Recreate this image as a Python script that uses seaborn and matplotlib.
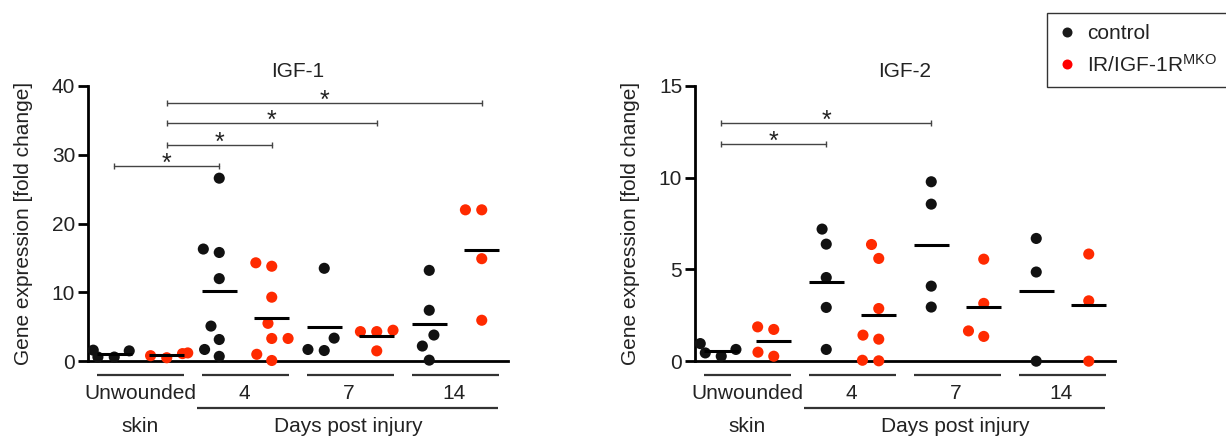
import numpy as np
import pandas as pd
import matplotlib
matplotlib.use("Agg")
import matplotlib.pyplot as plt
import seaborn as sns
from matplotlib.lines import Line2D

# ---------------- data ----------------
groups = ["Unwounded", "4", "7", "14"]
genotypes = ["control", "IR/IGF-1R MKO"]

igf1_control = [[1.5, 0.6, 0.6, 1.6],
                [26.6, 16.3, 15.8, 12.0, 5.1, 3.15, 1.7, 0.7],
                [13.5, 3.35, 1.55, 1.7],
                [13.2, 7.4, 3.8, 2.2, 0.15]]
igf1_mko = [[1.1, 0.5, 0.8, 1.2],
            [14.3, 13.8, 9.3, 5.5, 3.3, 3.3, 1.0, 0.1],
            [4.3, 4.3, 4.5, 1.5],
            [22.0, 22.0, 14.9, 5.95]]
igf2_control = [[0.64, 0.27, 0.45, 0.96],
                [7.2, 6.38, 4.56, 2.93, 0.64],
                [9.78, 8.56, 4.09, 2.95],
                [6.69, 4.86, 0.0]]
igf2_mko = [[1.87, 1.73, 0.27, 0.49],
            [6.36, 5.6, 2.87, 1.42, 1.2, 0.02, 0.05],
            [5.56, 3.15, 1.65, 1.35],
            [5.84, 3.29, 0.0]]

# significance brackets: (from category index, to category index, height)
igf1_brackets = [(0, 2, 28.3), (1, 3, 31.45), (1, 5, 34.6), (1, 7, 37.5)]
igf2_brackets = [(0, 2, 11.82), (0, 4, 12.98)]

igf1_yticks = [0, 10, 20, 30, 40]
igf2_yticks = [0, 5, 10, 15]

titles = ["IGF-1", "IGF-2"]
ylabel = "Gene expression [fold change]"
group_top_labels = ["Unwounded", "4", "7", "14"]
bottom_labels = ["skin", "Days post injury"]
legend_labels = ["control", "IR/IGF-1R$^{\\mathregular{MKO}}$"]

# ---------------- style ----------------
sns.set_style("ticks")
plt.rcParams["font.family"] = ["Liberation Sans", "DejaVu Sans"]
plt.rcParams["mathtext.fontset"] = "custom"
plt.rcParams["mathtext.rm"] = "Liberation Sans"
plt.rcParams["mathtext.it"] = "Liberation Sans"
plt.rcParams["text.color"] = "#222222"

BLACK = "#111111"
RED = "#ff2a00"
FS = 15

order = [f"{g} {geno}" for g in groups for geno in genotypes]


def build_df(ctrl, mko):
    rows = []
    for g, c_vals, m_vals in zip(groups, ctrl, mko):
        for v in c_vals:
            rows.append({"cat": f"{g} control", "genotype": "control", "value": v})
        for v in m_vals:
            rows.append({"cat": f"{g} IR/IGF-1R MKO", "genotype": "IR/IGF-1R MKO", "value": v})
    return pd.DataFrame(rows)


fig = plt.figure(figsize=(12.26, 4.41), dpi=100)
ax1 = fig.add_axes([88 / 1226, 0.181, 420 / 1226, 0.624])
ax2 = fig.add_axes([695 / 1226, 0.181, 420 / 1226, 0.624])

panels = [
    (ax1, igf1_control, igf1_mko, igf1_brackets, igf1_yticks, titles[0]),
    (ax2, igf2_control, igf2_mko, igf2_brackets, igf2_yticks, titles[1]),
]

ax_h_px = 0.624 * 441


def frac(px):
    return -px / ax_h_px


for ax, ctrl, mko, brackets, yticks, title in panels:
    df = build_df(ctrl, mko)
    sns.swarmplot(data=df, x="cat", y="value", hue="genotype", order=order,
                  hue_order=genotypes, palette=[BLACK, RED], size=8.0,
                  linewidth=3.2, edgecolor="none", ax=ax, legend=False,
                  warn_thresh=1.0)
    for c in ax.collections:
        c.set_clip_on(False)
        c.set_zorder(3)

    # mean lines
    for i, cat in enumerate(order):
        m = df.loc[df["cat"] == cat, "value"].mean()
        ax.plot([i - 0.33, i + 0.33], [m, m], color="black", lw=2.2,
                solid_capstyle="butt", zorder=4, clip_on=False)

    # significance brackets
    for a, b, y in brackets:
        ax.plot([a, b], [y, y], color="#444444", lw=1.0, marker="|",
                markersize=5, mew=1.0, clip_on=False, zorder=2)
        ax.annotate("*", xy=((a + b) / 2, y), xytext=(0, -3.5),
                    textcoords="offset points", ha="center", va="baseline",
                    fontsize=18, color="#222222")

    ax.set_xlim(-0.5, 7.5)
    ax.set_ylim(0, yticks[-1])
    ax.set_yticks(yticks)
    ax.set_xticks([])
    ax.set_xlabel("")
    ax.set_ylabel(ylabel, fontsize=FS, color="#222222")
    ax.yaxis.set_label_coords(-0.131, 0.5)
    ax.set_title(title, fontsize=FS, pad=6.5, color="#222222")
    for s in ["top", "right"]:
        ax.spines[s].set_visible(False)
    for s in ["left", "bottom"]:
        ax.spines[s].set_linewidth(2)
        ax.spines[s].set_color("black")
    ax.tick_params(axis="y", length=7.2, width=2, labelsize=FS, pad=2,
                   colors="black", labelcolor="#222222")

    tr = ax.get_xaxis_transform()
    # group lines under each pair
    for k in range(4):
        ax.plot([2 * k - 0.33, 2 * k + 1 + 0.33], [frac(14), frac(14)],
                transform=tr, color="#333333", lw=1.6, clip_on=False,
                solid_capstyle="butt")
        xc = 2 * k + 0.5 if k == 0 else 2 * k + 0.47
        ax.text(xc, frac(32.5), group_top_labels[k], transform=tr,
                ha="center", va="center", fontsize=FS)
    ax.plot([1.57, 7.31], [frac(46.6), frac(46.6)], transform=tr,
            color="#333333", lw=1.6, clip_on=False, solid_capstyle="butt")
    ax.text(0.5, frac(65.5), bottom_labels[0], transform=tr, ha="center",
            va="center", fontsize=FS)
    ax.text(4.45, frac(65.5), bottom_labels[1], transform=tr, ha="center",
            va="center", fontsize=FS)

handles = [Line2D([], [], ls="none", marker="o", markersize=7.2,
                  markerfacecolor="#1a1a1a", markeredgecolor="none"),
           Line2D([], [], ls="none", marker="o", markersize=7.2,
                  markerfacecolor="#ff0000", markeredgecolor="none")]
leg = fig.legend(handles, legend_labels, loc="upper left",
                 bbox_to_anchor=(1047.3 / 1226, 1 - 12.7 / 441),
                 bbox_transform=fig.transFigure, borderaxespad=0,
                 frameon=True, fancybox=False, fontsize=FS,
                 handlelength=0.8, handletextpad=0.56, borderpad=0.55,
                 labelspacing=0.5)
leg.get_frame().set_edgecolor("black")
leg.get_frame().set_linewidth(1.0)
leg.get_frame().set_facecolor("white")

fig.savefig("out.png", dpi=100)
